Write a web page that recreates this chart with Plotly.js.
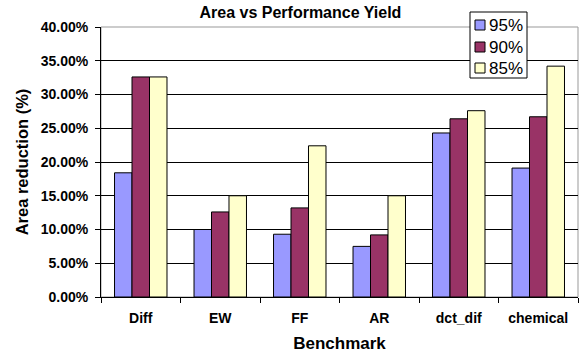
<!DOCTYPE html>
<html><head><meta charset="utf-8">
<script src="https://cdn.plot.ly/plotly-3.0.1.min.js"></script>
<style>html,body{margin:0;padding:0;background:#fff}#c{width:580px;height:356px}</style>
</head><body><div id="c"></div>
<script>
const categories = ["Diff","EW","FF","AR","dct_dif","chemical"];
const seriesNames = ["95%","90%","85%"];
const y95 = [0.184,0.100,0.093,0.075,0.243,0.191];
const y90 = [0.326,0.126,0.132,0.092,0.264,0.267];
const y85 = [0.326,0.150,0.224,0.150,0.276,0.342];
const colors = ["#9999FF","#993366","#FFFFCC"];
const yTickVals = [0,0.05,0.1,0.15,0.2,0.25,0.3,0.35,0.4];

const font = "Liberation Sans, Arial, sans-serif";
const W = 580, H = 356, ML = 101, MR = 2, MT = 27, MB = 59;
const PW = W - ML - MR, PH = H - MT - MB;
const px = x => (x - ML) / PW;
const py = y => (H - MB - y) / PH;

const traces = [y95,y90,y85].map((ys,i)=>({
  type:"bar", x:categories, y:ys, name:seriesNames[i],
  marker:{color:colors[i], line:{color:"#000", width:1}}
}));

// custom compact legend (box, swatches, labels)
const shapes = [
  {type:"rect", xref:"paper", yref:"paper", x0:0, x1:1, y0:0, y1:1, line:{color:"#999", width:1}, layer:"below"},
  {type:"rect", xref:"paper", yref:"paper", x0:px(470), x1:px(527), y0:py(78), y1:py(12), fillcolor:"#fff", line:{color:"#000", width:1}, layer:"above"}
];
const annotations = [];
const itemY = [25, 47, 68];
seriesNames.forEach((n,i)=>{
  shapes.push({type:"rect", xref:"paper", yref:"paper", x0:px(475), x1:px(485), y0:py(itemY[i]+5), y1:py(itemY[i]-5),
    fillcolor:colors[i], line:{color:"#000", width:1}, layer:"above"});
  annotations.push({xref:"paper", yref:"paper", x:px(487), y:py(itemY[i]), xanchor:"left", yanchor:"middle",
    text:n, showarrow:false, font:{family:font, size:17, color:"#000"}});
});

const layout = {
  width:W, height:H,
  margin:{l:ML, r:MR, t:MT, b:MB},
  paper_bgcolor:"#fff", plot_bgcolor:"#fff",
  barmode:"group", bargap:0.34, bargroupgap:0,
  showlegend:false,
  title:{text:"<b>Area vs Performance Yield</b>", font:{family:font, size:16, color:"#000"}, x:0.518, xanchor:"center", y:0.965, yanchor:"middle"},
  xaxis:{
    title:{text:"<b>Benchmark</b>", font:{family:font, size:17, color:"#000"}, standoff:12},
    tickfont:{family:font, size:14, color:"#000", weight:"bold"},
    tickson:"boundaries", ticks:"outside", ticklen:5, tickcolor:"#000",
    ticklabelstandoff:8,
    showline:true, linecolor:"#000", linewidth:1,
    fixedrange:true
  },
  yaxis:{
    title:{text:"<b>Area reduction (%)</b>", font:{family:font, size:16.5, color:"#000"}, standoff:7},
    range:[0,0.4], tickvals:yTickVals, tickformat:".2%",
    tickfont:{family:font, size:14, color:"#000", weight:"bold"},
    ticks:"outside", ticklen:5, tickcolor:"#000",
    ticklabelstandoff:4,
    showgrid:true, gridcolor:"#000", gridwidth:1,
    showline:true, linecolor:"#000", linewidth:1,
    zeroline:false, fixedrange:true
  },
  shapes:shapes,
  annotations:annotations
};
Plotly.newPlot("c", traces, layout, {displayModeBar:false, staticPlot:true});
</script></body></html>
